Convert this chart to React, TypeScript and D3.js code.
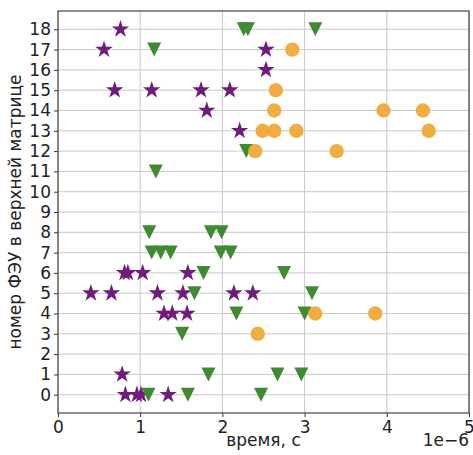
import React, { useEffect, useRef } from 'react';
import * as d3 from 'd3';

// время в единицах 1e-6 с, номер ФЭУ
const starT = [0.76, 0.56, 2.53, 2.53, 0.69, 1.14, 1.74, 2.09, 1.81, 2.21,
  0.81, 0.85, 1.03, 1.58, 0.40, 0.65, 1.21, 1.52, 2.14, 2.37,
  1.29, 1.39, 1.57, 0.78, 0.82, 0.96, 1.01, 1.34];
const starN = [18, 17, 17, 16, 15, 15, 15, 15, 14, 13,
  6, 6, 6, 6, 5, 5, 5, 5, 5, 5,
  4, 4, 4, 1, 0, 0, 0, 0];

const triT = [2.26, 2.31, 3.13, 1.17, 2.29, 1.19, 1.11, 1.86, 1.99,
  1.14, 1.25, 1.37, 1.98, 2.10, 1.77, 2.75, 1.66, 3.09,
  2.17, 3.00, 1.51, 1.83, 2.67, 2.96, 1.10, 1.58, 2.47];
const triN = [18, 18, 18, 17, 12, 11, 8, 8, 8,
  7, 7, 7, 7, 7, 6, 6, 5, 5,
  4, 4, 3, 1, 1, 1, 0, 0, 0];

const circT = [2.85, 2.65, 2.63, 3.96, 4.44, 2.49, 2.63, 2.90, 4.51,
  2.40, 3.39, 3.13, 3.86, 2.43];
const circN = [17, 15, 14, 14, 14, 13, 13, 13, 13,
  12, 12, 4, 4, 3];

const xTicks = [0, 1, 2, 3, 4, 5];
const yTicks = d3.range(0, 19);

export default function App() {
  const ref = useRef<SVGSVGElement>(null);

  useEffect(() => {
    const svg = d3.select(ref.current);
    svg.selectAll('*').remove();

    const margin = { top: 11, right: 4, bottom: 42, left: 58 };
    const width = 473 - margin.left - margin.right;
    const height = 455 - margin.top - margin.bottom;

    const x = d3.scaleLinear().domain([0, 5]).range([0, width]);
    const y = d3.scaleLinear().domain([-0.9, 18.9]).range([height, 0]);

    const g = svg.append('g')
      .attr('transform', 'translate(' + margin.left + ',' + margin.top + ')');

    // grid
    g.append('g').selectAll('line.gx')
      .data(xTicks)
      .enter().append('line')
      .attr('x1', d => x(d)).attr('x2', d => x(d))
      .attr('y1', 0).attr('y2', height)
      .attr('stroke', '#c8c8c8').attr('stroke-width', 1);
    g.append('g').selectAll('line.gy')
      .data(yTicks)
      .enter().append('line')
      .attr('x1', 0).attr('x2', width)
      .attr('y1', d => y(d)).attr('y2', d => y(d))
      .attr('stroke', '#c8c8c8').attr('stroke-width', 1);

    const font = 'DejaVu Sans, sans-serif';

    const xAxis = g.append('g')
      .attr('transform', 'translate(0,' + height + ')')
      .call(d3.axisBottom(x).tickValues(xTicks).tickFormat(d3.format('d')).tickSize(4).tickPadding(4));
    const yAxis = g.append('g')
      .call(d3.axisLeft(y).tickValues(yTicks).tickFormat(d3.format('d')).tickSize(4).tickPadding(3));
    [xAxis, yAxis].forEach(a => {
      a.select('.domain').remove();
      a.selectAll('text').attr('font-size', 17).attr('font-family', font).attr('fill', '#222');
      a.selectAll('line').attr('stroke', '#333');
    });

    // spines
    g.append('rect')
      .attr('width', width).attr('height', height)
      .attr('fill', 'none').attr('stroke', '#444').attr('stroke-width', 1.2);

    // stars
    const star = d3.symbol().type(d3.symbolStar).size(95);
    g.append('g').selectAll('path')
      .data(starT)
      .enter().append('path')
      .attr('d', star)
      .attr('transform', (d, i) => 'translate(' + x(d) + ',' + y(starN[i]) + ')')
      .attr('fill', '#711b7d');

    // triangles down
    const s = 7;
    const tri = 'M0,' + s + 'L' + (-s) + ',' + (-s) + 'L' + s + ',' + (-s) + 'Z';
    g.append('g').selectAll('path')
      .data(triT)
      .enter().append('path')
      .attr('d', tri)
      .attr('transform', (d, i) => 'translate(' + x(d) + ',' + y(triN[i]) + ')')
      .attr('fill', '#3e8b31');

    // circles
    g.append('g').selectAll('circle')
      .data(circT)
      .enter().append('circle')
      .attr('cx', d => x(d))
      .attr('cy', (d, i) => y(circN[i]))
      .attr('r', 7.2)
      .attr('fill', '#f0a838')
      .attr('opacity', 0.95);

    // labels
    svg.append('text')
      .attr('x', margin.left + width / 2).attr('y', 446)
      .attr('text-anchor', 'middle')
      .attr('font-size', 17).attr('font-family', font).attr('fill', '#222')
      .text('время, с');
    svg.append('text')
      .attr('x', margin.left + width).attr('y', 446)
      .attr('text-anchor', 'end')
      .attr('font-size', 17).attr('font-family', font).attr('fill', '#222')
      .text('1e\u22126');
    svg.append('text')
      .attr('transform', 'translate(21,' + (margin.top + height / 2) + ') rotate(-90)')
      .attr('text-anchor', 'middle')
      .attr('font-size', 17).attr('font-family', font).attr('fill', '#222')
      .text('номер ФЭУ в верхней матрице');
  }, []);

  return (
    <svg ref={ref} width={473} height={455}
      style={{ position: 'absolute', left: 0, top: 0, background: '#fff' }} />
  );
}
